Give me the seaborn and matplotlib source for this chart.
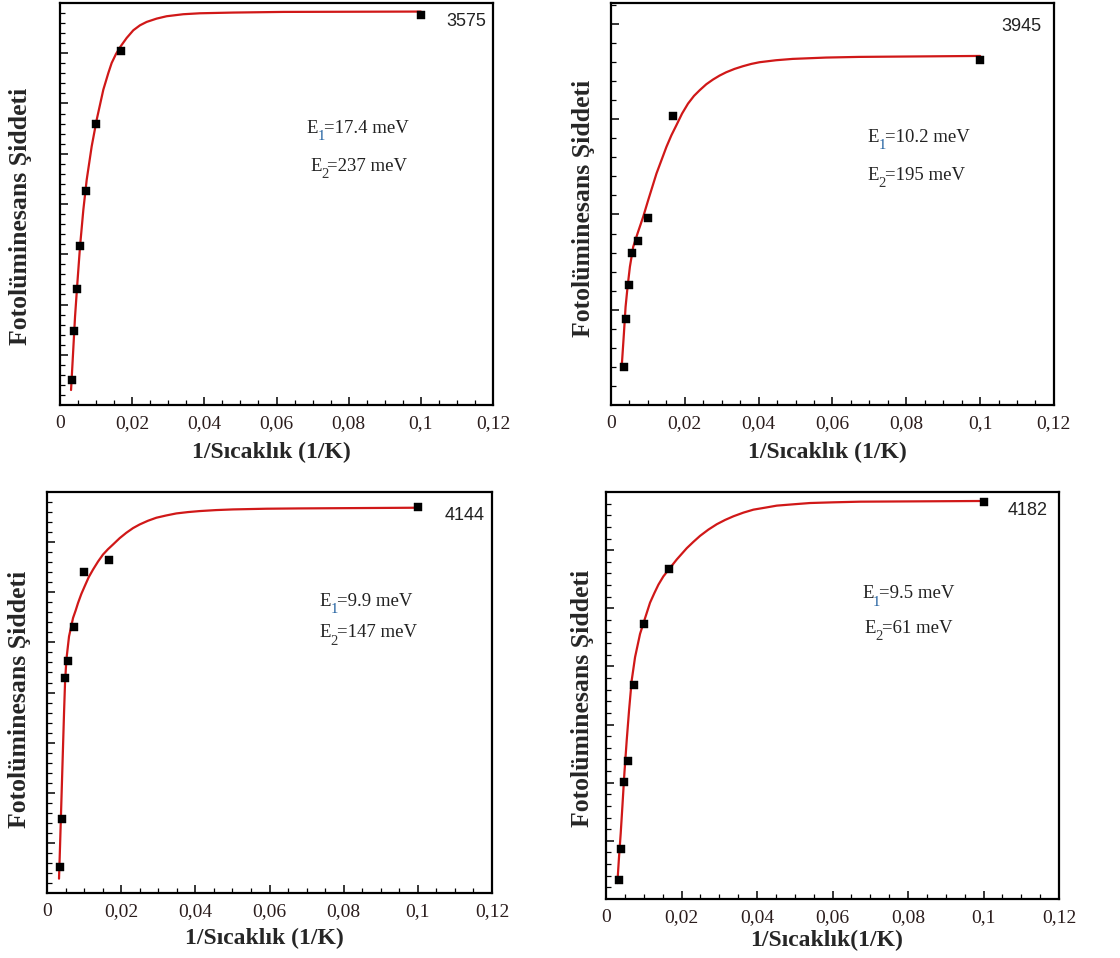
import matplotlib
matplotlib.use("Agg")
import matplotlib.pyplot as plt
import seaborn as sns
import pandas as pd
from matplotlib.ticker import MultipleLocator, FixedLocator, FixedFormatter

# ---------------- data ----------------
x_ticks = [0, 0.02, 0.04, 0.06, 0.08, 0.1, 0.12]
x_tick_labels = ["0", "0,02", "0,04", "0,06", "0,08", "0,1", "0,12"]

sample_names = ["3575", "3945", "4144", "4182"]
e1_labels = ["=17.4 meV", "=10.2 meV", "=9.9 meV", "=9.5 meV"]
e2_labels = ["=237 meV", "=195 meV", "=147 meV", "=61 meV"]
x_labels = ["1/Sıcaklık (1/K)", "1/Sıcaklık (1/K)", "1/Sıcaklık (1/K)", "1/Sıcaklık(1/K)"]
y_label = "Fotolüminesans Şiddeti"

# measured points
pts_x_3575 = [0.00323, 0.00388, 0.0047, 0.00554, 0.0072, 0.00997, 0.0168, 0.1]
pts_y_3575 = [0.50, 1.47, 2.30, 3.17, 4.26, 5.59, 7.05, 7.76]
pts_x_3945 = [0.00342, 0.00405, 0.00477, 0.00558, 0.00729, 0.00999, 0.01683, 0.1]
pts_y_3945 = [0.40, 0.90, 1.26, 1.60, 1.72, 1.96, 3.03, 3.62]
pts_x_4144 = [0.00341, 0.00395, 0.00485, 0.00566, 0.00728, 0.00997, 0.0168, 0.1]
pts_y_4144 = [0.52, 1.47, 4.29, 4.63, 5.30, 6.41, 6.64, 7.70]
pts_x_4182 = [0.00336, 0.00389, 0.00468, 0.00574, 0.00742, 0.01007, 0.0167, 0.1]
pts_y_4182 = [0.33, 0.857, 2.006, 2.371, 3.686, 4.731, 5.674, 6.829]

# fitted curves
fit_x_3575 = [0.00305, 0.00351, 0.00416, 0.00480, 0.00554, 0.00646, 0.00739, 0.00877, 0.01016,
              0.01200, 0.01339, 0.01431, 0.01551, 0.01681, 0.01847, 0.02031, 0.02216, 0.02401,
              0.02678, 0.02955, 0.03416, 0.03878, 0.04801, 0.06187, 0.1]
fit_y_3575 = [0.299, 0.896, 1.760, 2.424, 3.154, 3.884, 4.482, 5.146, 5.677,
              6.275, 6.607, 6.806, 6.985, 7.138, 7.304, 7.457, 7.556, 7.623,
              7.689, 7.736, 7.776, 7.795, 7.809, 7.822, 7.829]
fit_x_3945 = [0.00297, 0.00351, 0.00396, 0.00450, 0.00513, 0.00603, 0.00720, 0.00873, 0.01008,
              0.01233, 0.01368, 0.01503, 0.01638, 0.01773, 0.01926, 0.02088, 0.02250, 0.02403,
              0.02583, 0.02763, 0.02943, 0.03123, 0.03348, 0.03573, 0.03798, 0.04023, 0.04473,
              0.04923, 0.05824, 0.06724, 0.1]
fit_y_3945 = [0.437, 0.752, 1.031, 1.241, 1.451, 1.661, 1.801, 1.976, 2.150,
              2.430, 2.570, 2.710, 2.832, 2.937, 3.059, 3.164, 3.245, 3.304,
              3.367, 3.416, 3.458, 3.493, 3.528, 3.556, 3.580, 3.598, 3.619,
              3.633, 3.647, 3.654, 3.664]
fit_x_4144 = [0.00323, 0.00350, 0.00377, 0.00404, 0.00431, 0.00458, 0.00485, 0.00521, 0.00593,
              0.00701, 0.00773, 0.00836, 0.00925, 0.01015, 0.01123, 0.01240, 0.01375, 0.01509,
              0.01644, 0.01779, 0.01959, 0.02138, 0.02318, 0.02498, 0.02722, 0.02947, 0.03217,
              0.03486, 0.03801, 0.04115, 0.04564, 0.05013, 0.05912, 0.06810, 0.1]
fit_y_4144 = [0.287, 0.920, 1.587, 2.253, 2.920, 3.587, 4.187, 4.653, 5.120,
              5.487, 5.640, 5.787, 5.967, 6.120, 6.300, 6.453, 6.613, 6.753,
              6.860, 6.953, 7.080, 7.187, 7.280, 7.353, 7.427, 7.487, 7.533,
              7.573, 7.600, 7.620, 7.640, 7.653, 7.667, 7.673, 7.687]
fit_x_4182 = [0.00300, 0.00345, 0.00389, 0.00433, 0.00486, 0.00548, 0.00610, 0.00680, 0.00769,
              0.00901, 0.01007, 0.01166, 0.01281, 0.01387, 0.01519, 0.01670, 0.01873, 0.02138,
              0.02314, 0.02491, 0.02712, 0.02933, 0.03154, 0.03375, 0.03640, 0.03905, 0.04214,
              0.04523, 0.04965, 0.05406, 0.06025, 0.06731, 0.1]
fit_y_4182 = [0.274, 0.731, 1.131, 1.589, 2.160, 2.731, 3.246, 3.760, 4.160,
              4.560, 4.777, 5.097, 5.263, 5.406, 5.549, 5.674, 5.840, 6.034,
              6.143, 6.246, 6.354, 6.446, 6.520, 6.583, 6.646, 6.697, 6.731,
              6.766, 6.789, 6.811, 6.823, 6.834, 6.846]

y_tops = [8.0, 4.22, 8.0, 7.0]

# ---------------- style ----------------
sns.set_style("ticks")
plt.rcParams["font.family"] = ["Liberation Serif", "DejaVu Serif"]

fig = plt.figure(figsize=(11.2, 9.58), dpi=100)

axes_rects = [
    [0.0536, 0.5772, 0.3866, 0.4197],
    [0.5455, 0.5772, 0.3955, 0.4197],
    [0.0420, 0.0678, 0.3973, 0.4186],
    [0.5411, 0.0616, 0.4045, 0.4248],
]
ylabel_coords = [(-0.092, 0.47), (-0.063, 0.49), (-0.061, 0.484), (-0.053, 0.494)]
xlabel_coords = [(0.487, -0.117), (0.488, -0.117), (0.488, -0.112), (0.486, -0.101)]
e_pos = [((0.0683, 5.51), (0.0693, 4.75)),
         ((0.0695, 2.81), (0.0695, 2.41)),
         ((0.0735, 5.82), (0.0735, 5.19)),
         ((0.0678, 5.25), (0.0684, 4.65))]
name_pos = [(0.1182, 7.64), (0.1166, 3.97), (0.1180, 7.53), (0.1170, 6.69)]

pts_x = [pts_x_3575, pts_x_3945, pts_x_4144, pts_x_4182]
pts_y = [pts_y_3575, pts_y_3945, pts_y_4144, pts_y_4182]
fit_x = [fit_x_3575, fit_x_3945, fit_x_4144, fit_x_4182]
fit_y = [fit_y_3575, fit_y_3945, fit_y_4144, fit_y_4182]

red = "#d01818"

for i in range(4):
    ax = fig.add_axes(axes_rects[i])
    fit_df = pd.DataFrame({"x": fit_x[i], "y": fit_y[i]})
    pt_df = pd.DataFrame({"x": pts_x[i], "y": pts_y[i]})
    sns.lineplot(data=fit_df, x="x", y="y", ax=ax, color=red, lw=1.6, sort=False, zorder=2,
                 solid_joinstyle="round", solid_capstyle="round")
    sns.scatterplot(data=pt_df, x="x", y="y", ax=ax, marker="s", color="black",
                    s=38, edgecolor="black", linewidth=0.3, zorder=3)

    ax.set_xlim(0, 0.12)
    ax.set_ylim(0, y_tops[i])
    ax.xaxis.set_major_locator(FixedLocator(x_ticks))
    ax.xaxis.set_major_formatter(FixedFormatter(x_tick_labels))
    ax.xaxis.set_minor_locator(MultipleLocator(0.005))
    ax.yaxis.set_major_locator(MultipleLocator(1))
    ax.yaxis.set_minor_locator(MultipleLocator(0.2))
    ax.set_yticklabels([])
    ax.tick_params(axis="both", which="major", direction="in", length=6, width=1.1,
                   color="black")
    ax.tick_params(axis="both", which="minor", direction="in", length=3.5, width=0.9,
                   color="black")
    ax.tick_params(axis="x", which="major", labelsize=14, pad=7, labelcolor="#2b1d1d")
    ax.tick_params(axis="y", which="both", left=True, right=False)
    ax.tick_params(axis="x", which="both", top=False)
    for sp in ax.spines.values():
        sp.set_visible(True)
        sp.set_linewidth(1.6)
        sp.set_color("black")

    ax.set_xlabel(x_labels[i], fontsize=17, fontweight="bold")
    ax.xaxis.label.set_va("center")
    ax.xaxis.set_label_coords(*xlabel_coords[i])
    ax.set_ylabel(y_label, fontsize=18.5, fontweight="bold")
    ax.yaxis.label.set_va("center")
    ax.yaxis.set_label_coords(*ylabel_coords[i])

    # E1 / E2 annotations
    for j, (lbl, sub, subcol) in enumerate([(e1_labels[i], "1", "#1f5f9f"),
                                             (e2_labels[i], "2", "#333333")]):
        px, py = e_pos[i][j]
        ax.annotate("E", xy=(px, py), xycoords="data", fontsize=13.5, ha="left",
                    va="center", color="#222222")
        ax.annotate(sub, xy=(px, py), xycoords="data", xytext=(7.8, -6), textcoords="offset points",
                    fontsize=10.5, ha="left", va="center", color=subcol)
        ax.annotate(lbl, xy=(px, py), xycoords="data", xytext=(12.5, 0), textcoords="offset points",
                    fontsize=13.5, ha="left", va="center", color="#222222")

    ax.text(name_pos[i][0], name_pos[i][1], sample_names[i], ha="right", va="center",
            fontsize=13, family=["Liberation Sans", "DejaVu Sans"], color="#222222")

fig.savefig("out.png", dpi=100)
